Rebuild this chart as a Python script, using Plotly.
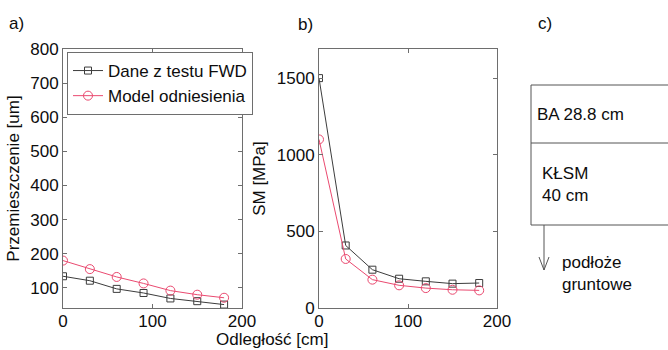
import plotly.graph_objects as go

W, H = 668, 350

# Data
dist = [0, 30, 60, 90, 120, 150, 180]
disp_fwd = [134, 121, 97, 85, 69, 61, 51]
disp_model = [180, 155, 132, 113, 92, 80, 71]
sm_fwd = [1500, 408, 250, 191, 174, 159, 163]
sm_model = [1100, 320, 185, 148, 130, 119, 115]

name_fwd = "Dane z testu FWD"
name_model = "Model odniesienia"

FONT = "Liberation Sans, Arial, sans-serif"
FS = 17
C_FWD = "#3c3c3c"
C_MOD = "#ea4a70"
AX = "#6e6e6e"
TXT = "#0d0d0d"

def px(x):
    return x / W

def py(y):
    return 1 - y / H

fig = go.Figure()

fig.add_trace(go.Scatter(x=dist, y=disp_fwd, name=name_fwd, mode="lines+markers",
                         line=dict(color=C_FWD, width=1),
                         marker=dict(symbol="square-open", size=7, color=C_FWD, line=dict(width=1)),
                         xaxis="x", yaxis="y"))
fig.add_trace(go.Scatter(x=dist, y=disp_model, name=name_model, mode="lines+markers",
                         line=dict(color=C_MOD, width=1),
                         marker=dict(symbol="circle-open", size=9, color=C_MOD, line=dict(width=1)),
                         xaxis="x", yaxis="y"))
fig.add_trace(go.Scatter(x=dist, y=sm_fwd, name=name_fwd, mode="lines+markers", showlegend=False,
                         line=dict(color=C_FWD, width=1),
                         marker=dict(symbol="square-open", size=7, color=C_FWD, line=dict(width=1)),
                         xaxis="x2", yaxis="y2"))
fig.add_trace(go.Scatter(x=dist, y=sm_model, name=name_model, mode="lines+markers", showlegend=False,
                         line=dict(color=C_MOD, width=1),
                         marker=dict(symbol="circle-open", size=9, color=C_MOD, line=dict(width=1)),
                         xaxis="x2", yaxis="y2"))

axis_common = dict(showgrid=False, zeroline=False, showline=True, linecolor=AX, linewidth=1,
                   mirror="ticks", ticks="inside", ticklen=4, tickcolor=AX, automargin=False,
                   tickfont=dict(family=FONT, size=FS, color=TXT))

yd = [py(308), py(49)]
fig.update_layout(
    width=W, height=H, margin=dict(l=0, r=0, t=0, b=0, pad=0, autoexpand=False),
    paper_bgcolor="white", plot_bgcolor="white",
    font=dict(family=FONT, size=FS, color=TXT),
    xaxis=dict(domain=[px(63), px(242)], range=[0, 200], tickvals=[0, 100, 200], anchor="y",
               ticklabelstandoff=-2, **axis_common),
    yaxis=dict(domain=yd, range=[41, 800], tickvals=[100, 200, 300, 400, 500, 600, 700, 800], anchor="x",
               title=dict(text="Przemieszczenie [um]", font=dict(family=FONT, size=FS, color=TXT), standoff=6),
               **axis_common),
    xaxis2=dict(domain=[px(319), px(497)], range=[0, 200], tickvals=[0, 100, 200], anchor="y2",
                ticklabelstandoff=-2, **axis_common),
    yaxis2=dict(domain=yd, range=[0, 1690], tickvals=[0, 500, 1000, 1500], anchor="x2",
                title=dict(text="SM [MPa]", font=dict(family=FONT, size=FS, color=TXT), standoff=6),
                **axis_common),
    legend=dict(x=px(67), y=py(52), xanchor="left", yanchor="top",
                bgcolor="white", bordercolor=AX, borderwidth=1,
                font=dict(family=FONT, size=FS, color=TXT), tracegroupgap=0,
                itemwidth=30),
    showlegend=True,
)

ann = []
def add_text(x, y, text, xanchor="left", yanchor="middle"):
    ann.append(dict(x=px(x), y=py(y), xref="paper", yref="paper", text=text, showarrow=False,
                    xanchor=xanchor, yanchor=yanchor, align="left",
                    font=dict(family=FONT, size=FS, color=TXT)))

add_text(7, 23, "a)")
add_text(296, 24, "b)")
add_text(536, 23, "c)")
add_text(272, 339, "Odległość [cm]", xanchor="center")
add_text(535, 115, "BA 28.8 cm")
add_text(540, 184, "KŁSM<br>40 cm")
add_text(560, 273, "podłoże<br>gruntowe")
fig.update_layout(annotations=ann)

shapes = []
def line(x0, y0, x1, y1):
    shapes.append(dict(type="line", xref="paper", yref="paper", x0=px(x0), y0=py(y0), x1=px(x1), y1=py(y1),
                       line=dict(color="#555", width=1)))

shapes.append(dict(type="rect", xref="paper", yref="paper", x0=px(531), y0=py(225), x1=px(672), y1=py(85),
                   line=dict(color="#555", width=1)))
line(531, 143, 672, 143)
line(544, 225, 544, 270)
line(539, 257, 544, 270)
line(549, 257, 544, 270)
fig.update_layout(shapes=shapes)

fig.write_html("out.html")
